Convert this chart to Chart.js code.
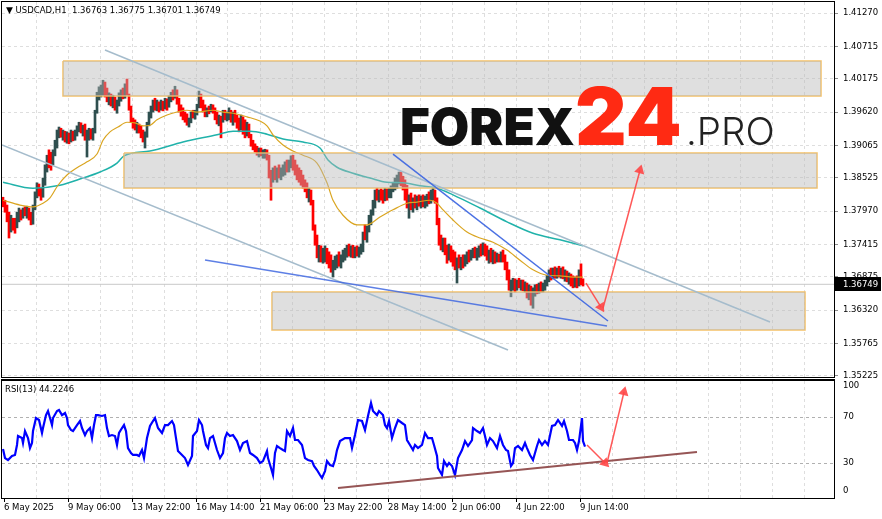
<!DOCTYPE html>
<html><head><meta charset="utf-8"><title>USDCAD H1</title>
<script src="https://cdn.jsdelivr.net/npm/chart.js@4.4.1/dist/chart.umd.min.js"></script>
<style>
html,body{margin:0;padding:0;background:#fff;}
#wrap{position:relative;width:882px;height:519px;overflow:hidden;background:#fff;}
#main{position:absolute;left:0;top:0;}
#rsi{position:absolute;left:0;top:378px;}
.lbl{position:absolute;font-family:"DejaVu Sans",sans-serif;font-size:8.5px;line-height:10px;color:#000;white-space:nowrap;z-index:3;}
.logo{position:absolute;font-family:Inter,"Open Sans",sans-serif;line-height:1;white-space:nowrap;z-index:2;}
</style></head>
<body><div id="wrap">
<canvas id="main" width="882" height="378"></canvas>
<canvas id="rsi" width="882" height="141"></canvas>
<div class="lbl" style="left:6px;top:5px;"><span style="font-size:9px;">&#9660;</span> USDCAD,H1&nbsp; 1.36763 1.36775 1.36701 1.36749</div>
<div class="lbl" style="left:5px;top:384px;">RSI(13) 44.2246</div>
<div class="logo" style="left:400px;top:101px;font-size:51px;font-weight:900;color:#111;">FOREX</div>
<div class="logo" style="left:575px;top:76px;font-size:80px;font-weight:900;color:#ff2a13;">24</div>
<div class="logo" style="left:686px;top:112px;font-size:38.5px;font-weight:300;color:#222;">.PRO</div>
</div>
<script>
// ---------- data ----------
const lastQuote = [1.36763, 1.36775, 1.36701, 1.36749];
const priceTicks = [1.41270,1.40715,1.40175,1.39620,1.39065,1.38525,1.37970,1.37415,1.36875,1.36320,1.35765,1.35225];
const timeLabels = ['6 May 2025','9 May 06:00','13 May 22:00','16 May 14:00','21 May 06:00','23 May 22:00','28 May 14:00','2 Jun 06:00','4 Jun 22:00','9 Jun 14:00'];
const timeLabelHours = [2,66,130,194,258,322,386,450,514,578];
const gridHours = [2,34,66,98,130,162,194,226,258,290,322,354,386,418,450,482,514,546,578,610,642,674,706,738,770,802];

const candleFirstHour = 1, candleStepHours = 2;
const candleFirstOpen = 1.3820;
const candleHighs = [
1.3820,1.3815,1.3807,1.3795,1.3790,1.3785,1.3785,1.3795,1.3802,1.3799,
1.3802,1.3804,1.3805,1.3802,1.3795,1.3807,1.3829,1.3844,1.3842,1.3835,
1.3852,1.3874,1.3890,1.3899,1.3895,1.3899,1.3915,1.3932,1.3937,1.3935,
1.3932,1.3930,1.3929,1.3927,1.3932,1.3930,1.3932,1.3939,1.3945,1.3944,
1.3940,1.3942,1.3932,1.3935,1.3934,1.3935,1.3965,1.3995,1.4004,1.4007,
1.4015,1.4012,1.4002,1.3994,1.3992,1.3990,1.3987,1.3982,1.3994,1.3999,
1.4002,1.4009,1.4017,1.3992,1.3972,1.3952,1.3949,1.3945,1.3942,1.3940,
1.3932,1.3929,1.3945,1.3962,1.3972,1.3982,1.3985,1.3982,1.3979,1.3982,
1.3980,1.3985,1.3984,1.3989,1.3995,1.3999,1.4005,1.3999,1.3985,1.3974,
1.3969,1.3962,1.3959,1.3952,1.3962,1.3965,1.3965,1.3975,1.3997,1.3992,
1.3982,1.3974,1.3969,1.3972,1.3975,1.3974,1.3969,1.3962,1.3957,1.3955,
1.3965,1.3965,1.3962,1.3969,1.3965,1.3962,1.3965,1.3957,1.3952,1.3957,
1.3954,1.3949,1.3945,1.3942,1.3925,1.3915,1.3909,1.3905,1.3902,1.3902,
1.3899,1.3900,1.3899,1.3890,1.3865,1.3869,1.3872,1.3869,1.3874,1.3869,
1.3874,1.3879,1.3882,1.3882,1.3889,1.3890,1.3882,1.3874,1.3869,1.3865,
1.3857,1.3849,1.3844,1.3835,1.3832,1.3815,1.3774,1.3757,1.3740,1.3739,
1.3735,1.3739,1.3735,1.3729,1.3724,1.3715,1.3722,1.3724,1.3729,1.3724,
1.3732,1.3735,1.3740,1.3742,1.3739,1.3740,1.3737,1.3739,1.3737,1.3742,
1.3762,1.3774,1.3772,1.3790,1.3799,1.3815,1.3832,1.3835,1.3832,1.3834,
1.3832,1.3835,1.3834,1.3835,1.3839,1.3845,1.3852,1.3857,1.3862,1.3862,
1.3855,1.3849,1.3840,1.3824,1.3827,1.3819,1.3824,1.3822,1.3824,1.3822,
1.3824,1.3822,1.3825,1.3829,1.3832,1.3835,1.3832,1.3819,1.3785,1.3757,
1.3752,1.3752,1.3740,1.3742,1.3739,1.3732,1.3729,1.3719,1.3724,1.3720,
1.3724,1.3724,1.3729,1.3732,1.3732,1.3735,1.3737,1.3735,1.3739,1.3742,
1.3744,1.3742,1.3739,1.3732,1.3735,1.3732,1.3729,1.3727,1.3725,1.3729,
1.3732,1.3724,1.3712,1.3699,1.3682,1.3685,1.3684,1.3682,1.3685,1.3682,
1.3682,1.3679,1.3677,1.3674,1.3672,1.3669,1.3674,1.3675,1.3677,1.3679,
1.3677,1.3682,1.3690,1.3699,1.3702,1.3702,1.3704,1.3702,1.3705,1.3702,
1.3704,1.3699,1.3697,1.3694,1.3692,1.3689,1.3687,1.3689,1.3699,1.3709,
1.3684];
const candleLows = [
1.3804,1.3795,1.3779,1.3752,1.3762,1.3765,1.3760,1.3769,1.3779,1.3782,
1.3785,1.3789,1.3785,1.3782,1.3774,1.3775,1.3799,1.3819,1.3822,1.3815,
1.3820,1.3840,1.3862,1.3869,1.3865,1.3874,1.3889,1.3902,1.3919,1.3920,
1.3915,1.3912,1.3910,1.3909,1.3912,1.3914,1.3915,1.3922,1.3929,1.3927,
1.3922,1.3915,1.3887,1.3915,1.3917,1.3915,1.3927,1.3960,1.3982,1.3987,
1.3990,1.3987,1.3979,1.3974,1.3972,1.3969,1.3965,1.3960,1.3972,1.3980,
1.3984,1.3985,1.3990,1.3965,1.3945,1.3935,1.3932,1.3927,1.3927,1.3919,
1.3912,1.3902,1.3920,1.3939,1.3952,1.3962,1.3965,1.3964,1.3962,1.3965,
1.3964,1.3967,1.3965,1.3970,1.3979,1.3982,1.3985,1.3975,1.3962,1.3955,
1.3949,1.3945,1.3940,1.3937,1.3944,1.3952,1.3950,1.3957,1.3969,1.3969,
1.3962,1.3954,1.3954,1.3959,1.3962,1.3960,1.3949,1.3942,1.3939,1.3919,
1.3945,1.3949,1.3947,1.3949,1.3945,1.3940,1.3945,1.3935,1.3929,1.3932,
1.3925,1.3919,1.3922,1.3919,1.3905,1.3899,1.3895,1.3890,1.3887,1.3889,
1.3885,1.3885,1.3882,1.3852,1.3815,1.3845,1.3849,1.3845,1.3852,1.3849,
1.3855,1.3857,1.3862,1.3862,1.3869,1.3865,1.3857,1.3849,1.3845,1.3840,
1.3835,1.3829,1.3819,1.3812,1.3807,1.3765,1.3740,1.3719,1.3712,1.3712,
1.3710,1.3712,1.3709,1.3702,1.3695,1.3687,1.3699,1.3702,1.3705,1.3702,
1.3712,1.3715,1.3720,1.3722,1.3720,1.3719,1.3719,1.3722,1.3720,1.3725,
1.3729,1.3749,1.3745,1.3762,1.3774,1.3790,1.3802,1.3815,1.3812,1.3815,
1.3810,1.3814,1.3815,1.3819,1.3819,1.3829,1.3832,1.3835,1.3842,1.3839,
1.3832,1.3815,1.3802,1.3785,1.3799,1.3795,1.3802,1.3799,1.3805,1.3802,
1.3804,1.3802,1.3805,1.3809,1.3810,1.3815,1.3810,1.3774,1.3740,1.3732,
1.3729,1.3724,1.3710,1.3715,1.3712,1.3705,1.3699,1.3677,1.3702,1.3699,
1.3702,1.3705,1.3709,1.3712,1.3715,1.3719,1.3719,1.3715,1.3720,1.3722,
1.3724,1.3722,1.3715,1.3710,1.3712,1.3709,1.3710,1.3712,1.3712,1.3712,
1.3712,1.3699,1.3682,1.3665,1.3654,1.3665,1.3662,1.3665,1.3669,1.3665,
1.3664,1.3662,1.3652,1.3649,1.3640,1.3635,1.3655,1.3659,1.3660,1.3662,
1.3662,1.3665,1.3672,1.3679,1.3682,1.3684,1.3685,1.3685,1.3687,1.3685,
1.3684,1.3680,1.3679,1.3675,1.3672,1.3669,1.3670,1.3669,1.3672,1.3674,
1.3672];
const candleCloses = [
1.3807,1.3799,1.3785,1.3769,1.3779,1.3772,1.3769,1.3790,1.3795,1.3789,
1.3797,1.3792,1.3800,1.3789,1.3779,1.3804,1.3824,1.3839,1.3829,1.3822,
1.3847,1.3869,1.3885,1.3877,1.3874,1.3894,1.3910,1.3927,1.3934,1.3925,
1.3929,1.3917,1.3922,1.3914,1.3927,1.3919,1.3929,1.3935,1.3942,1.3932,
1.3935,1.3922,1.3924,1.3930,1.3922,1.3930,1.3962,1.3990,1.3999,1.4002,
1.4010,1.3992,1.3984,1.3987,1.3977,1.3984,1.3972,1.3975,1.3989,1.3994,
1.3989,1.4004,1.3994,1.3969,1.3949,1.3945,1.3935,1.3939,1.3930,1.3924,
1.3917,1.3922,1.3942,1.3959,1.3969,1.3977,1.3972,1.3977,1.3967,1.3979,
1.3969,1.3982,1.3972,1.3985,1.3992,1.3989,1.4000,1.3980,1.3969,1.3960,
1.3955,1.3950,1.3945,1.3949,1.3959,1.3955,1.3962,1.3972,1.3990,1.3975,
1.3965,1.3959,1.3965,1.3962,1.3972,1.3964,1.3954,1.3947,1.3950,1.3949,
1.3960,1.3954,1.3957,1.3962,1.3950,1.3955,1.3949,1.3940,1.3935,1.3952,
1.3930,1.3924,1.3939,1.3922,1.3910,1.3904,1.3899,1.3894,1.3897,1.3892,
1.3895,1.3897,1.3885,1.3857,1.3849,1.3862,1.3855,1.3862,1.3855,1.3860,
1.3862,1.3872,1.3865,1.3877,1.3884,1.3870,1.3864,1.3855,1.3852,1.3845,
1.3842,1.3839,1.3824,1.3829,1.3810,1.3772,1.3749,1.3724,1.3732,1.3719,
1.3729,1.3732,1.3715,1.3712,1.3702,1.3707,1.3715,1.3719,1.3712,1.3719,
1.3727,1.3730,1.3735,1.3727,1.3734,1.3724,1.3732,1.3727,1.3732,1.3739,
1.3757,1.3755,1.3769,1.3785,1.3794,1.3810,1.3827,1.3820,1.3827,1.3820,
1.3815,1.3830,1.3820,1.3830,1.3834,1.3840,1.3847,1.3852,1.3855,1.3844,
1.3837,1.3822,1.3810,1.3815,1.3805,1.3814,1.3807,1.3817,1.3810,1.3817,
1.3809,1.3815,1.3820,1.3817,1.3827,1.3830,1.3815,1.3779,1.3749,1.3740,
1.3745,1.3729,1.3722,1.3735,1.3717,1.3712,1.3707,1.3712,1.3707,1.3715,
1.3705,1.3719,1.3724,1.3719,1.3729,1.3732,1.3724,1.3729,1.3735,1.3727,
1.3739,1.3727,1.3720,1.3725,1.3717,1.3722,1.3715,1.3720,1.3715,1.3724,
1.3719,1.3704,1.3687,1.3670,1.3677,1.3680,1.3669,1.3677,1.3674,1.3679,
1.3669,1.3672,1.3659,1.3669,1.3655,1.3662,1.3669,1.3664,1.3674,1.3667,
1.3674,1.3679,1.3687,1.3695,1.3689,1.3699,1.3690,1.3699,1.3694,1.3697,
1.3689,1.3694,1.3684,1.3689,1.3677,1.3674,1.3682,1.3674,1.3692,1.3680,
1.36749];

const maFastHours = [1,18,31,41,48,56,65,75,85,95,101,108,116,125,133,141,148,155,165,175,185,195,211,221,231,245,258,265,271,281,291,301,315,325,331,341,355,365,378,391,405,415,428,435,441,451,465,478,491,505,518,531,545,558,571,581];
const maFastValues = [1.3815,1.3807,1.3804,1.3810,1.3819,1.3840,1.3857,1.3869,1.3879,1.3892,1.3915,1.3929,1.3937,1.3945,1.3944,1.3939,1.3940,1.3949,1.3957,1.3962,1.3965,1.3962,1.3965,1.3962,1.3960,1.3954,1.3947,1.3939,1.3924,1.3907,1.3897,1.3890,1.3877,1.3844,1.3815,1.3790,1.3774,1.3774,1.3787,1.3799,1.3810,1.3812,1.3815,1.3810,1.3799,1.3782,1.3762,1.3752,1.3745,1.3732,1.3715,1.3699,1.3690,1.3689,1.3687,1.3687];
const maSlowHours = [1,31,58,81,98,115,122,148,181,215,231,248,265,281,301,318,326,335,351,368,385,401,418,435,451,478,505,531,558,581];
const maSlowValues = [1.3845,1.3835,1.3840,1.3852,1.3862,1.3877,1.3889,1.3897,1.3912,1.3924,1.3930,1.3930,1.3925,1.3917,1.3912,1.3902,1.3882,1.3870,1.3860,1.3852,1.3845,1.3844,1.3839,1.3835,1.3824,1.3802,1.3779,1.3760,1.3749,1.3739];

const zoneStartHours = [61,122,270];
const zoneEndHours = [819,815,803];
const zoneTops = [1.40470,1.38937,1.36620];
const zoneBottoms = [1.39887,1.38354,1.35987];

const channelUpperHours = [103,768], channelUpperValues = [1.40654,1.36120];
const channelLowerHours = [0,506], channelLowerValues = [1.39070,1.35654];
const wedgeUpperHours = [391,606], wedgeUpperValues = [1.38920,1.36137];
const wedgeLowerHours = [203,605], wedgeLowerValues = [1.37154,1.36054];
const arrowDownHours = [584,599], arrowDownValues = [1.3677,1.3637];
const arrowUpHours = [601,638], arrowUpValues = [1.3635,1.3865];

const rsiHours = [1,3,6,10,13,15,16,20,21,23,26,28,30,31,34,37,40,41,44,46,50,51,55,57,60,63,65,66,69,71,75,78,80,83,85,88,90,92,94,96,100,103,105,107,110,113,115,117,120,122,124,126,129,131,135,137,140,142,145,148,151,153,156,160,163,166,170,172,174,176,180,183,186,190,191,195,197,200,201,204,206,208,211,215,218,221,223,225,228,231,235,238,241,245,248,251,255,258,261,265,266,269,271,273,275,278,281,283,285,288,291,293,296,300,303,306,310,312,315,318,320,323,325,328,331,333,335,338,343,348,350,353,356,360,363,366,369,371,375,377,381,383,385,387,390,393,396,400,403,405,408,411,413,416,420,423,426,430,432,435,436,440,442,445,447,450,453,456,460,463,466,470,471,475,478,481,483,485,488,491,495,498,501,504,506,509,511,513,516,520,523,525,528,531,535,537,540,543,546,550,553,556,560,562,565,567,571,573,575,577,580,581,583];
const rsiValues = [42.2,34.3,32.6,36.1,37.0,45.7,53.5,51.7,47.4,57.8,51.7,43.0,47.4,57.8,69.1,67.4,56.1,60.4,71.7,75.2,63.0,69.1,75.2,76.1,71.7,73.5,69.1,63.0,58.7,57.8,63.0,66.5,60.4,54.3,57.8,60.4,51.7,63.0,71.7,71.7,70.9,71.7,60.4,53.5,54.3,53.5,45.7,56.1,60.4,63.0,57.8,43.0,38.7,37.0,37.0,36.1,41.3,34.3,51.7,62.2,66.5,69.1,60.4,56.1,63.0,63.0,66.5,63.0,51.7,40.4,37.0,34.3,28.3,36.1,53.5,57.8,67.4,63.0,57.8,45.7,43.0,51.7,53.5,41.3,34.3,38.7,51.7,56.1,53.5,54.3,49.1,41.3,47.4,49.1,38.7,37.0,34.3,30.0,31.7,40.4,34.3,25.7,19.6,38.7,44.8,43.0,41.3,40.4,57.8,53.5,60.4,50.0,50.0,45.7,34.3,32.6,31.7,27.4,23.9,19.6,17.0,23.0,31.7,28.3,27.4,32.6,41.3,49.1,51.7,51.7,43.0,54.3,67.4,66.5,58.7,70.9,82.2,75.2,71.7,75.2,71.7,63.0,60.4,66.5,51.7,60.4,67.4,64.8,63.0,50.0,45.7,41.3,45.7,43.0,45.7,56.1,51.7,51.7,45.7,36.1,25.7,19.6,31.7,27.4,30.0,27.4,19.6,34.3,41.3,49.1,44.8,50.0,60.4,57.8,56.1,60.4,53.5,45.7,51.7,49.1,43.0,53.5,45.7,41.3,40.4,27.4,30.0,43.0,44.8,41.3,47.4,43.0,37.0,32.6,44.8,50.0,45.7,49.1,45.7,62.2,63.0,67.4,62.2,66.5,57.8,50.0,50.0,47.4,41.3,49.1,69.1,49.1,44.2246];
const rsiLevels = [30,70];
const rsiAxisLabels = [100,70,30,0];
const rsiTrendHours = [336,695], rsiTrendValues = [8.3,39.6];
const rsiArrowDownHours = [585,603], rsiArrowDownValues = [45.7,30.0];
const rsiArrowUpHours = [605,622], rsiArrowUpValues = [30.0,91.7];

// ---------- styles ----------
const BULL = '#2f4f4f', BEAR = '#ff0000';
const GRID = '#dedede';
const ARROW = 'rgba(255,70,70,0.9)';
const FONT = {family: 'DejaVu Sans', size: 8.5};

// ---------- helpers ----------
const pts = (xs, ys) => xs.map((x, i) => ({x: x, y: ys[i]}));
const candleHours = candleHighs.map((_, i) => candleFirstHour + i * candleStepHours);
const candleOpens = candleCloses.map((c, i) => i === 0 ? candleFirstOpen : candleCloses[i - 1]);
const candleColors = candleCloses.map((c, i) => c >= candleOpens[i] ? BULL : BEAR);

function lineDs(data, color, width, order, extra) {
  return Object.assign({type: 'line', data: data, borderColor: color, borderWidth: width,
    pointRadius: 0, fill: false, tension: 0, order: order}, extra || {});
}
function arrowDs(hours, values, order) {
  return lineDs(pts(hours, values), ARROW, 1.5, order, {
    pointRadius: [0, 6], pointStyle: 'triangle', pointBackgroundColor: ARROW,
    pointBorderColor: ARROW, pointBorderWidth: 0,
    pointRotation: (c) => {
      const d = c.dataset.data, xs = c.chart.scales.x, ys = c.chart.scales.y;
      const dx = xs.getPixelForValue(d[1].x) - xs.getPixelForValue(d[0].x);
      const dy = ys.getPixelForValue(d[1].y) - ys.getPixelForValue(d[0].y);
      return Math.atan2(dx, -dy) * 180 / Math.PI;
    }
  });
}
function xScale(showLabels) {
  return {
    type: 'linear', min: 0, max: 832, offset: false,
    afterBuildTicks: s => { s.ticks = gridHours.map(v => ({value: v})); },
    afterFit: s => { s.height = showLabels ? 21 : 0; s.paddingLeft = 0; s.paddingRight = 0; },
    grid: {offset: false, lineWidth: 1, drawTicks: showLabels, tickLength: 4,
      color: c => (c.tick && c.tick.value === gridHours[0]) ? 'rgba(0,0,0,0)' : GRID,
      tickColor: c => (c.tick && timeLabelHours.includes(c.tick.value)) ? '#000' : 'rgba(0,0,0,0)'},
    border: {display: false, dash: [3, 3]},
    ticks: {display: showLabels, autoSkip: false, maxRotation: 0, minRotation: 0, align: 'start',
      padding: 1, color: '#000', font: FONT,
      callback: v => { const i = timeLabelHours.indexOf(v); return i >= 0 ? timeLabels[i] : ''; }}
  };
}
const framePlugin = {
  id: 'frame',
  afterDatasetsDraw(chart) {
    const {ctx, chartArea: a} = chart;
    ctx.save(); ctx.strokeStyle = '#000'; ctx.lineWidth = 1;
    ctx.strokeRect(a.left - 0.5, a.top - 0.5, a.right - a.left + 1, a.bottom - a.top + 1);
    ctx.restore();
  }
};
const priceTagPlugin = {
  id: 'priceTag',
  afterDraw(chart) {
    const {ctx, chartArea: a, scales: {y}} = chart;
    const py = Math.round(y.getPixelForValue(lastQuote[3]));
    ctx.save(); ctx.fillStyle = '#000'; ctx.fillRect(a.right + 1, py - 7, 46, 14);
    ctx.fillStyle = '#fff'; ctx.font = "8.5px 'DejaVu Sans'"; ctx.textBaseline = 'middle'; ctx.textAlign = 'left';
    ctx.fillText(lastQuote[3].toFixed(5), a.right + 9, py + 0.5);
    ctx.restore();
  }
};
const rsiLabelPlugin = {
  id: 'rsiLabels',
  afterDraw(chart) {
    const {ctx, chartArea: a, scales: {y}} = chart;
    ctx.save(); ctx.fillStyle = '#000'; ctx.font = "8.5px 'DejaVu Sans'"; ctx.textBaseline = 'middle'; ctx.textAlign = 'left';
    rsiAxisLabels.forEach(v => {
      const py = Math.min(Math.max(y.getPixelForValue(v), a.top + 5), a.bottom - 7);
      ctx.fillText(String(v), a.right + 9, py);
    });
    ctx.fillRect(a.left - 1, a.top - 2, a.right - a.left + 2, 2);
    ctx.restore();
  }
};

const common = {
  responsive: false, animation: false, devicePixelRatio: 1, events: [],
  plugins: {legend: {display: false}, tooltip: {enabled: false}},
  elements: {point: {radius: 0}}
};

// ---------- main price chart ----------
const mainDatasets = [];
mainDatasets.push(lineDs(pts([0, 832], [lastQuote[3], lastQuote[3]]), '#c8c8c8', 1, 9));
mainDatasets.push({type: 'bar', data: candleHours.map((h, i) => ({x: h, y: [candleLows[i], candleHighs[i]]})),
  backgroundColor: candleColors, borderWidth: 0, barPercentage: 1, categoryPercentage: 1, order: 8});
mainDatasets.push(lineDs(pts(maSlowHours, maSlowValues), 'rgb(32,178,170)', 1.5, 7, {cubicInterpolationMode: 'monotone'}));
mainDatasets.push(lineDs(pts(maFastHours, maFastValues), 'rgb(218,165,32)', 1.2, 6, {cubicInterpolationMode: 'monotone'}));
zoneStartHours.forEach((s, i) => {
  const e = zoneEndHours[i], t = zoneTops[i], b = zoneBottoms[i];
  mainDatasets.push(lineDs(pts([s, e], [t, t]), 'rgba(0,0,0,0)', 1, 5,
    {fill: {value: b}, backgroundColor: 'rgba(185,185,185,0.45)'}));
  mainDatasets.push(lineDs(pts([s, e, e, s, s], [t, t, b, b, t]), 'rgba(243,190,95,0.95)', 1.5, 5));
});
mainDatasets.push(lineDs(pts(channelUpperHours, channelUpperValues), 'rgb(165,188,204)', 1.5, 3));
mainDatasets.push(lineDs(pts(channelLowerHours, channelLowerValues), 'rgb(165,188,204)', 1.5, 3));
mainDatasets.push(lineDs(pts(wedgeUpperHours, wedgeUpperValues), 'rgba(65,105,225,0.95)', 1.5, 2));
mainDatasets.push(lineDs(pts(wedgeLowerHours, wedgeLowerValues), 'rgba(65,105,225,0.85)', 1.3, 2));
mainDatasets.push(arrowDs(arrowDownHours, arrowDownValues, 1));
mainDatasets.push(arrowDs(arrowUpHours, arrowUpValues, 1));

new Chart(document.getElementById('main'), {
  type: 'line',
  data: {datasets: mainDatasets},
  options: Object.assign({}, common, {
    layout: {autoPadding: false, padding: {left: 2, top: 2, right: 0, bottom: 1}},
    scales: {
      x: xScale(false),
      y: {type: 'linear', position: 'right', min: 1.35204, max: 1.41454,
        afterBuildTicks: s => { s.ticks = priceTicks.map(v => ({value: v})); },
        afterFit: s => { s.width = 48; s.paddingTop = 0; s.paddingBottom = 0; },
        grid: {color: GRID, drawTicks: true, tickLength: 4, tickColor: '#8c8c8c'},
        border: {display: false, dash: [3, 3]},
        ticks: {color: '#000', padding: 5, font: FONT, callback: v => v.toFixed(5)}}
    }
  }),
  plugins: [framePlugin, priceTagPlugin]
});

// ---------- RSI chart ----------
new Chart(document.getElementById('rsi'), {
  type: 'line',
  data: {datasets: [
    lineDs(pts(rsiHours, rsiValues), '#0000ff', 2.2, 3),
    lineDs(pts(rsiTrendHours, rsiTrendValues), 'rgb(150,85,85)', 2, 2),
    arrowDs(rsiArrowDownHours, rsiArrowDownValues, 1),
    arrowDs(rsiArrowUpHours, rsiArrowUpValues, 1)
  ]},
  options: Object.assign({}, common, {
    layout: {autoPadding: false, padding: {left: 2, top: 3, right: 0, bottom: 0}},
    scales: {
      x: xScale(true),
      y: {type: 'linear', position: 'right', min: -0.4, max: 101.3,
        afterBuildTicks: s => { s.ticks = rsiLevels.map(v => ({value: v})); },
        afterFit: s => { s.width = 48; s.paddingTop = 0; s.paddingBottom = 0; },
        grid: {color: '#b0b0b0', drawTicks: false},
        border: {display: false, dash: [3, 3]},
        ticks: {display: false}}
    }
  }),
  plugins: [framePlugin, rsiLabelPlugin]
});
</script>
</body></html>
